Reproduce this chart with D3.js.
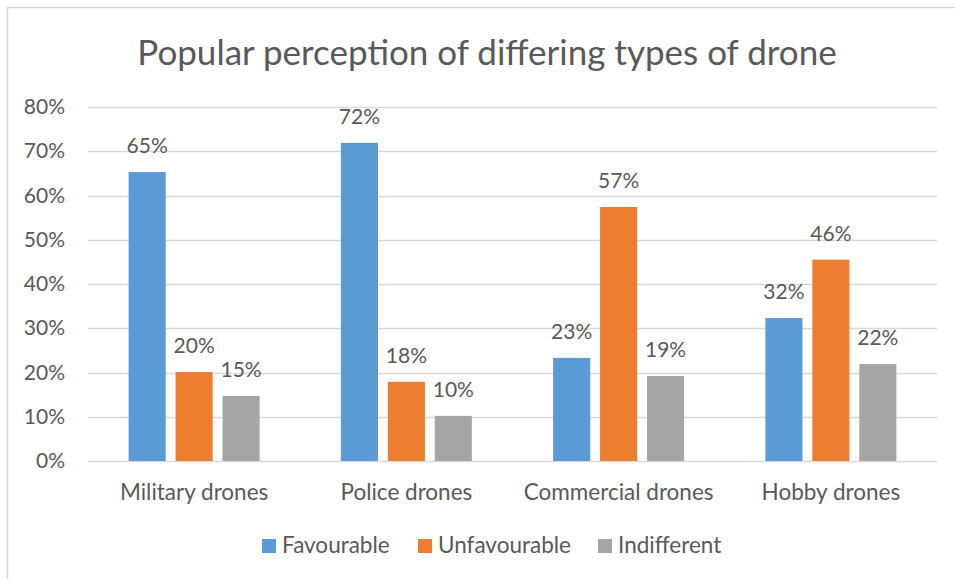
<!DOCTYPE html>
<html>
<head>
<meta charset="utf-8">
<script src="https://cdn.jsdelivr.net/npm/d3@7"></script>
<style>
  body { margin: 0; background: #fff; }
  text { font-family: Lato, "Open Sans", sans-serif; fill: #595959; }
</style>
</head>
<body>
<div id="chart"></div>
<script>
// data
var categories = ["Military drones", "Police drones", "Commercial drones", "Hobby drones"];
var seriesNames = ["Favourable", "Unfavourable", "Indifferent"];
var favourable = [0.653, 0.719, 0.233, 0.323];
var unfavourable = [0.201, 0.179, 0.574, 0.455];
var indifferent = [0.147, 0.102, 0.192, 0.219];
var yTicks = [0, 0.1, 0.2, 0.3, 0.4, 0.5, 0.6, 0.7, 0.8];
var colors = ["#5B9BD5", "#ED7D31", "#A5A5A5"];

var values = [favourable, unfavourable, indifferent];

var outerWidth = 955,
    outerHeight = 579,
    margin = {top: 107, right: 18, bottom: 118, left: 88},
    width = outerWidth - margin.left - margin.right,
    height = outerHeight - margin.top - margin.bottom,
    numSize = 21,   // numbers (ticks, data labels)
    textSize = 22.5; // words (categories, legend)

var root = d3.select("#chart").append("svg")
    .attr("width", outerWidth)
    .attr("height", outerHeight);

// chart border (runs off the right and bottom edge)
root.append("rect")
    .attr("x", 7.5)
    .attr("y", 7.5)
    .attr("width", 960)
    .attr("height", 590)
    .attr("fill", "none")
    .attr("stroke", "#D9D9D9")
    .attr("stroke-width", 1.5);

root.append("text")
    .attr("x", 487)
    .attr("y", 65)
    .attr("text-anchor", "middle")
    .style("font-size", "35px")
    .text("Popular perception of differing types of drone");

var svg = root.append("g")
    .attr("transform", "translate(" + margin.left + "," + margin.top + ")");

var x0 = d3.scaleBand()
    .domain(categories)
    .range([0, width]);

var x1 = d3.scaleBand()
    .domain(seriesNames)
    .range([0, 131])
    .paddingInner(0.21);

var y = d3.scaleLinear()
    .domain([0, 0.8])
    .range([height, 0]);

// gridlines
svg.append("g")
    .selectAll("line")
    .data(yTicks)
    .enter().append("line")
    .attr("x1", 0)
    .attr("x2", width)
    .attr("y1", function(d) { return Math.round(y(d)) + 0.5; })
    .attr("y2", function(d) { return Math.round(y(d)) + 0.5; })
    .attr("stroke", "#D9D9D9")
    .attr("stroke-width", 1.5);

// y axis
var yAxis = svg.append("g")
    .call(d3.axisLeft(y).tickValues(yTicks).tickFormat(d3.format(".0%")).tickSize(0).tickPadding(23));
yAxis.select(".domain").remove();
yAxis.selectAll("text")
    .style("font-size", numSize + "px")
    .style("font-family", "Lato, sans-serif")
    .style("fill", "#595959");

// x axis labels
var xAxis = svg.append("g")
    .attr("transform", "translate(0," + height + ")")
    .call(d3.axisBottom(x0).tickSize(0).tickPadding(23));
xAxis.select(".domain").remove();
xAxis.selectAll("text")
    .style("font-size", textSize + "px")
    .style("font-family", "Lato, sans-serif")
    .style("fill", "#595959");

// bars
var groups = svg.selectAll(".group")
    .data(categories)
    .enter().append("g")
    .attr("class", "group")
    .attr("transform", function(d) {
      return "translate(" + (x0(d) + (x0.bandwidth() - 131) / 2) + ",0)";
    });

groups.selectAll("rect")
    .data(function(d, i) {
      return seriesNames.map(function(s, j) { return {series: s, value: values[j][i], color: colors[j]}; });
    })
    .enter().append("rect")
    .attr("x", function(d) { return x1(d.series); })
    .attr("y", function(d) { return y(d.value); })
    .attr("width", x1.bandwidth())
    .attr("height", function(d) { return height - y(d.value); })
    .attr("fill", function(d) { return d.color; });

groups.selectAll(".label")
    .data(function(d, i) {
      return seriesNames.map(function(s, j) { return {series: s, value: values[j][i]}; });
    })
    .enter().append("text")
    .attr("class", "label")
    .attr("x", function(d) { return x1(d.series) + x1.bandwidth() / 2; })
    .attr("y", function(d) { return y(d.value) - 19; })
    .attr("text-anchor", "middle")
    .style("font-size", numSize + "px")
    .text(function(d) { return d3.format(".0%")(d.value); });

// legend
var legend = root.append("g")
    .attr("transform", "translate(262,539)");

var legendX = [0, 156, 336];

var item = legend.selectAll(".item")
    .data(seriesNames)
    .enter().append("g")
    .attr("class", "item")
    .attr("transform", function(d, i) { return "translate(" + legendX[i] + ",0)"; });

item.append("rect")
    .attr("width", 14)
    .attr("height", 14)
    .attr("fill", function(d, i) { return colors[i]; });

item.append("text")
    .attr("x", 20)
    .attr("y", 14)
    .style("font-size", textSize + "px")
    .text(function(d) { return d; });
</script>
</body>
</html>
